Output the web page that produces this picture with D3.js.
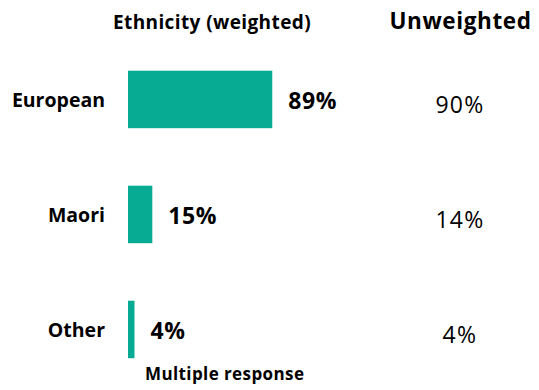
<!DOCTYPE html>
<html>
<head>
<meta charset="utf-8">
<script src="https://cdn.jsdelivr.net/npm/d3@7"></script>
<style>
  html, body { margin: 0; padding: 0; background: #fff; }
  svg { display: block; }
  text { font-family: "Open Sans", "Noto Sans", sans-serif; fill: #000; }
</style>
</head>
<body>
<svg id="chart" width="539" height="390"></svg>
<script>
const categories = ["European", "Maori", "Other"];
const weighted = [89, 15, 4];
const unweighted = [90, 14, 4];
const titleWeighted = "Ethnicity (weighted)";
const titleUnweighted = "Unweighted";
const footnote = "Multiple response";

const svg = d3.select("#chart");
const barColor = "#07AB93";

const y = d3.scaleBand().domain(categories).range([41.95, 386.95])
  .paddingInner(0.5).paddingOuter(0.25);
const x = d3.scaleLinear().domain([0, 100]).range([128, 290.1]);

const data = categories.map((c, i) => ({ c, w: weighted[i], u: unweighted[i] }));

svg.selectAll("rect.bar").data(data).join("rect")
  .attr("class", "bar")
  .attr("x", x(0))
  .attr("y", d => y(d.c))
  .attr("width", d => x(d.w) - x(0))
  .attr("height", y.bandwidth())
  .attr("fill", barColor);

const mid = d => y(d.c) + y.bandwidth() / 2;

svg.selectAll("text.cat").data(data).join("text")
  .attr("class", "cat")
  .attr("x", 105)
  .attr("y", d => mid(d) + 7.5)
  .attr("text-anchor", "end")
  .style("font-weight", 700)
  .style("font-size", "19.5px")
  .text(d => d.c);

svg.selectAll("text.val").data(data).join("text")
  .attr("class", "val")
  .attr("x", d => x(d.w) + 16)
  .attr("y", d => mid(d) + 10)
  .style("font-weight", 700)
  .style("font-size", "23px")
  .style("letter-spacing", "0.6px")
  .text(d => d.w + "%");

svg.selectAll("text.unw").data(data).join("text")
  .attr("class", "unw")
  .attr("x", 460)
  .attr("y", d => mid(d) + 13.5)
  .attr("text-anchor", "middle")
  .style("font-weight", 400)
  .style("font-size", "23px")
  .style("letter-spacing", "1.3px")
  .text(d => d.u + "%");

svg.append("text")
  .attr("x", 212).attr("y", 29.3)
  .attr("text-anchor", "middle")
  .style("font-weight", 700).style("font-size", "19px")
  .style("letter-spacing", "0.4px")
  .text(titleWeighted);

svg.append("text")
  .attr("x", 460.5).attr("y", 29.3)
  .attr("text-anchor", "middle")
  .style("font-weight", 700).style("font-size", "22.5px")
  .style("letter-spacing", "0.6px")
  .text(titleUnweighted);

svg.append("text")
  .attr("x", 145).attr("y", 380)
  .style("font-weight", 700).style("font-size", "17px")
  .style("letter-spacing", "0.4px")
  .text(footnote);
</script>
</body>
</html>
